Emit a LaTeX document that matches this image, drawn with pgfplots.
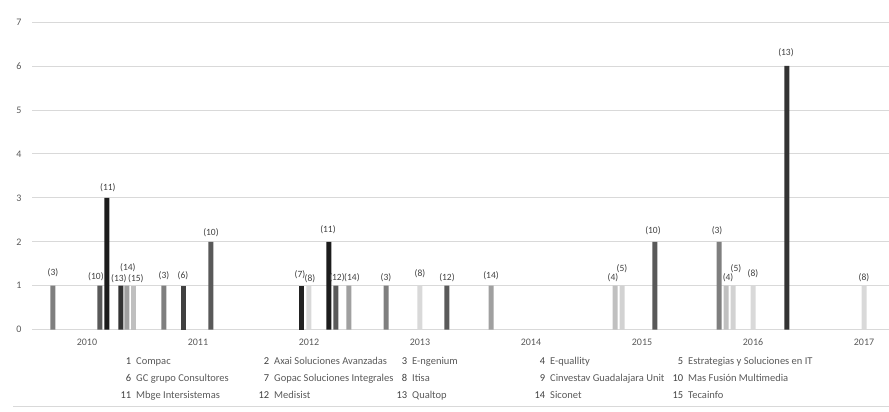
\documentclass[border=0pt]{standalone}
\usepackage{fontspec}
\setmainfont{Carlito}
\usepackage{pgfplots}
\pgfplotsset{compat=1.18}

\definecolor{gridgray}{HTML}{D9D9D9}
\definecolor{ticktext}{HTML}{595959}
\definecolor{labtext}{HTML}{404040}
\definecolor{c3}{HTML}{7F7F7F}
\definecolor{c4}{HTML}{C0C0C0}
\definecolor{c5}{HTML}{D2D2D2}
\definecolor{c6}{HTML}{404040}
\definecolor{c7}{HTML}{222222}
\definecolor{c8}{HTML}{D9D9D9}
\definecolor{c10}{HTML}{595959}
\definecolor{c11}{HTML}{1C1C1C}
\definecolor{c12}{HTML}{5A5A5A}
\definecolor{c13}{HTML}{333333}
\definecolor{c14}{HTML}{A0A0A0}
\definecolor{c15}{HTML}{BFBFBF}

% one series per company: bar label is the company number, dx/dy nudge the label
\pgfplotsset{
    firm/.style={
        fill=#1, draw=none,
        nodes near coords={(\pgfplotsseriesname)},
    },
    lab/.style={
        fill=c#1, draw=none,
        nodes near coords={(#1)},
    },
}

\newcommand{\entry}[2]{\makebox[138pt][l]{\makebox[20pt][r]{\color{labtext}#1}\hspace{5pt}#2}}

\begin{document}
\begin{tikzpicture}
\path[use as bounding box] (0,0) rectangle (889pt,412pt);
\begin{axis}[
    at={(32pt,82.3pt)}, anchor=south west,
    scale only axis,
    width=857pt, height=307.7pt,
    xmin=2009.505, xmax=2017.225,
    ymin=0, ymax=7,
    clip=false,
    ybar, bar width=5pt, bar shift=0pt,
    axis x line*=bottom, axis y line*=left,
    x axis line style={draw=gridgray, line width=0.8pt},
    y axis line style={draw=none},
    major tick length=0pt,
    xtick={2010,2011,2012,2013,2014,2015,2016,2017},
    ytick={0,1,2,3,4,5,6,7},
    /pgf/number format/assume math mode=true,
    /pgf/number format/set thousands separator={},
    ymajorgrids,
    grid style={draw=gridgray, line width=0.8pt},
    tick label style={font=\fontsize{10}{12}\selectfont, text=ticktext, inner sep=0pt},
    xticklabel style={anchor=center, yshift=-12.3pt},
    yticklabel style={anchor=center, xshift=-13pt},
    visualization depends on={\thisrow{dx} \as \labdx},
    visualization depends on={\thisrow{dy} \as \labdy},
    every node near coord/.append style={anchor=center, inner sep=0pt,
        xshift=\labdx pt, yshift=\labdy pt,
        font=\fontsize{9.5}{11}\selectfont, text=labtext},
    legend columns=5,
    legend cell align=left,
    legend style={at={(0.0922,-0.0887)}, anchor=north west, draw=none, fill=none,
        inner sep=0pt, row sep=7.5pt,
        nodes={inner sep=0pt, text height=7pt, text depth=2.5pt},
        font=\fontsize{10.5}{12}\selectfont, text=ticktext,
        /tikz/every even column/.style={column sep=0pt},
        /tikz/every odd column/.style={column sep=0pt}},
]

\addplot[lab=3, forget plot] table {
x        y  dx  dy
2009.694 1  0   13
2010.694 1  0   10
2012.694 1  0   8.3
2015.694 2  -2  11
};
\addplot[lab=4, forget plot] table {
x        y  dx  dy
2014.757 1  -2  7.7
2015.757 1  2   8.3
};
\addplot[lab=5, forget plot] table {
x        y  dx  dy
2014.820 1  0   16.7
2015.820 1  3   16.7
};
\addplot[lab=6, forget plot] table {
x        y  dx  dy
2010.874 1  -1  10
};
\addplot[lab=7, forget plot] table {
x        y  dx  dy
2011.937 1  -2  11
};
\addplot[lab=8, forget plot] table {
x        y  dx  dy
2012.000 1  1   6.7
2013.000 1  0   12
2016.000 1  0   11.7
2017.000 1  0   8.3
};
\addplot[lab=10, forget plot] table {
x        y  dx  dy
2010.117 1  -4  9
2011.117 2  0   8.7
2015.117 2  -2  11
};
\addplot[lab=11, forget plot] table {
x        y  dx  dy
2010.180 3  1   10
2012.180 2  -1  12
};
\addplot[lab=12, forget plot] table {
x        y  dx  dy
2012.243 1  1   8.3
2013.243 1  0   8.3
};
\addplot[lab=13, forget plot] table {
x        y  dx  dy
2010.306 1  -2  6.7
2016.306 6  -1  13.3
};
\addplot[lab=14, forget plot] table {
x        y  dx  dy
2010.360 1  1   17.7
2012.360 1  3   8.3
2013.640 1  0   10
};
\addplot[lab=15, forget plot] table {
x        y  dx  dy
2010.423 1  2   6.7
};

\addlegendimage{empty legend}\addlegendentry{\entry{1}{Compac}}
\addlegendimage{empty legend}\addlegendentry{\entry{2}{Axai Soluciones Avanzadas}}
\addlegendimage{empty legend}\addlegendentry{\entry{3}{E-ngenium}}
\addlegendimage{empty legend}\addlegendentry{\entry{4}{E-quallity}}
\addlegendimage{empty legend}\addlegendentry{\entry{5}{Estrategias y Soluciones en IT}}
\addlegendimage{empty legend}\addlegendentry{\entry{6}{GC grupo Consultores}}
\addlegendimage{empty legend}\addlegendentry{\entry{7}{Gopac Soluciones Integrales}}
\addlegendimage{empty legend}\addlegendentry{\entry{8}{Itisa}}
\addlegendimage{empty legend}\addlegendentry{\entry{9}{Cinvestav Guadalajara Unit}}
\addlegendimage{empty legend}\addlegendentry{\entry{10}{Mas Fusión Multimedia}}
\addlegendimage{empty legend}\addlegendentry{\entry{11}{Mbge Intersistemas}}
\addlegendimage{empty legend}\addlegendentry{\entry{12}{Medisist}}
\addlegendimage{empty legend}\addlegendentry{\entry{13}{Qualtop}}
\addlegendimage{empty legend}\addlegendentry{\entry{14}{Siconet}}
\addlegendimage{empty legend}\addlegendentry{\entry{15}{Tecainfo}}
\end{axis}
\draw[gridgray, line width=0.8pt] (13pt,6pt) -- (889pt,6pt);
\end{tikzpicture}
\end{document}
